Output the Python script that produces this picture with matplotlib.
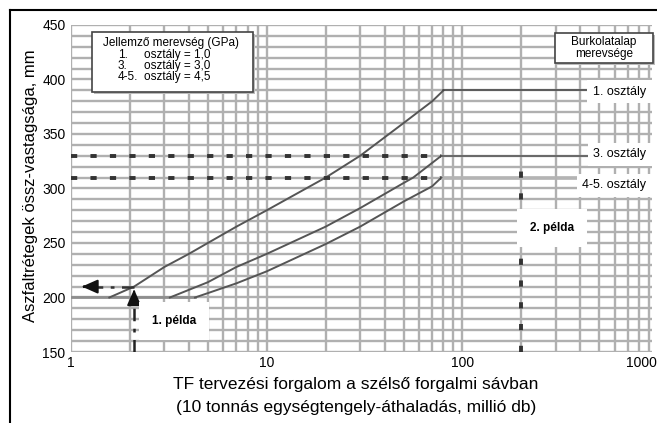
import matplotlib
matplotlib.use("Agg")
import matplotlib.pyplot as plt
from matplotlib.patches import Rectangle
import numpy as np

plt.rcParams['font.family'] = ['Liberation Sans', 'DejaVu Sans']

# ---- data ----
c1_x = [1.57, 2.1, 3.0, 4.0, 5.0, 7.0, 10.0, 20.0, 30.0, 50.0, 70.0, 80.0]
c1_y = [200, 210, 228, 240, 250, 265, 280, 310, 330, 360, 380, 390]
c3_x = [3.2, 4.0, 5.0, 7.0, 10.0, 20.0, 30.0, 50.0, 56.0, 78.0]
c3_y = [200, 207, 214, 228, 240, 265, 282, 305, 310, 330]
c45_x = [4.3, 5.0, 7.0, 10.0, 20.0, 30.0, 50.0, 70.0, 78.0]
c45_y = [200, 204, 213, 224, 249, 265, 288, 302, 310]
plateau_y = {'c1': 390, 'c3': 330, 'c45': 310}
x_end = 1000
class_labels = ['1. osztály', '3. osztály', '4-5. osztály']
ex1_x = 2.1
ex1_y = 210
ex1_left = 1.1
ex2_x = 200
ex2_top = 325
xticks = [1, 10, 100]
xticklabels = ['1', '10', '100']
last_xtick = '1000'
yticks = [150, 200, 250, 300, 350, 400, 450]
legend_title = 'Jellemző merevség (GPa)'
legend_rows = [('1.', 'osztály = 1,0'), ('3.', 'osztály = 3,0'), ('4-5.', 'osztály = 4,5')]

W, H = 657, 423
fig = plt.figure(figsize=(W / 100, H / 100), dpi=100)

def fx(px):
    return px / W

def fy(py):
    return 1 - py / H

ax = fig.add_axes([fx(71), fy(352), (652 - 71) / W, (352 - 25) / H])
ax.set_xscale('log')
ax.set_xlim(1, 930)
ax.set_ylim(150, 450)

grid_col = '#b0b0b0'
ax.set_xticks(xticks)
ax.set_xticklabels(xticklabels)
minor_x = [m * 10 ** k for k in range(3) for m in range(2, 10)]
ax.set_xticks(minor_x, minor=True)
ax.set_yticks(yticks)
ax.set_yticks(np.arange(150, 451, 10), minor=True)
ax.grid(True, which='both', color=grid_col, lw=1.7, zorder=0)
ax.set_axisbelow(True)
for s in ax.spines.values():
    s.set_visible(False)
ax.tick_params(which='both', length=0, labelsize=10, pad=4)
ax.tick_params(axis='x', pad=3)
ax.xaxis.set_minor_formatter(plt.NullFormatter())
ax.annotate(last_xtick, xy=(1.0, 0.0), xycoords='axes fraction',
            xytext=(3.5, -3), textcoords='offset points', ha='right', va='top',
            fontsize=10, annotation_clip=False)

# flat portion at 200
ax.plot([1.0, c45_x[0]], [200, 200], color='#8e8e8e', lw=2.0, zorder=2)

curve_col = '#555555'
ax.plot(c1_x, c1_y, color=curve_col, lw=1.4, zorder=3)
ax.plot(c3_x, c3_y, color=curve_col, lw=1.4, zorder=3)
ax.plot(c45_x, c45_y, color=curve_col, lw=1.4, zorder=3)

# plateaus to the right
ax.plot([c1_x[-1], x_end], [plateau_y['c1']] * 2, color='#444444', lw=1.1, zorder=3)
ax.plot([c3_x[-1], x_end], [plateau_y['c3']] * 2, color='#555555', lw=1.1, zorder=3)
ax.plot([c45_x[-1], x_end], [plateau_y['c45']] * 2, color='#b4b4b4', lw=2.6, zorder=2)

# dashed guides
dash_col = '#333333'
ax.plot([1, c3_x[-1]], [plateau_y['c3']] * 2, color=dash_col, lw=2.8,
        dashes=(1.6, 3.4), zorder=4)
ax.plot([1, c45_x[-1]], [plateau_y['c45']] * 2, color=dash_col, lw=2.8,
        dashes=(1.6, 3.4), zorder=4)
ax.plot([ex2_x, ex2_x], [150, ex2_top], color=dash_col, lw=2.8,
        dashes=(1.6, 4.0), zorder=4)

# example 1 arrows
ax.plot([ex1_x, ex1_x], [150, 203], color='#222222', lw=1.8,
        dashes=(5, 3, 1.5, 3), zorder=5)
ax.annotate('', xy=(ex1_x, ex1_y), xytext=(ex1_x, 201),
            arrowprops=dict(arrowstyle='-|>,head_width=0.42,head_length=0.95',
                            color='#111111', lw=1.5), zorder=6)
ax.plot([ex1_x, 1.24], [ex1_y, ex1_y], color='#333333', lw=1.8,
        dashes=(5, 3, 1.5, 3), zorder=5)
ax.annotate('', xy=(ex1_left, ex1_y), xytext=(1.21, ex1_y),
            arrowprops=dict(arrowstyle='-|>,head_width=0.42,head_length=0.95',
                            color='#111111', lw=1.5), zorder=6)

# example labels
fig.text(fx(174), fy(321), '1. példa', ha='center', va='center', fontsize=8.5,
         fontweight='bold', zorder=10,
         bbox=dict(facecolor='white', edgecolor='none', pad=9))
fig.text(fx(552), fy(228), '2. példa', ha='center', va='center', fontsize=8.5,
         fontweight='bold', zorder=10,
         bbox=dict(facecolor='white', edgecolor='none', pad=9))

# class labels on the right
for lab, py in zip(class_labels, [92, 154, 185]):
    fig.text(fx(646), fy(py), lab, ha='right', va='center', fontsize=9, zorder=10,
             bbox=dict(facecolor='white', edgecolor='none', pad=4))

# legend box (left)
x0, y0, x1, y1 = 92, 32, 253, 92
fig.patches.append(Rectangle((fx(x0 + 2), fy(y1 + 2)), (x1 - x0) / W, (y1 - y0) / H,
                             transform=fig.transFigure, facecolor='#bbbbbb',
                             edgecolor='none', zorder=8))
fig.patches.append(Rectangle((fx(x0), fy(y1)), (x1 - x0) / W, (y1 - y0) / H,
                             transform=fig.transFigure, facecolor='white',
                             edgecolor='#444444', lw=1.2, zorder=9))
fig.text(fx(171), fy(43), legend_title, ha='center', va='center', fontsize=8.5, zorder=10)
for (a, b), py in zip(legend_rows, [55, 66, 77]):
    fig.text(fx(118), fy(py), a, ha='left', va='center', fontsize=8.5, zorder=10)
    fig.text(fx(144), fy(py), b, ha='left', va='center', fontsize=8.5, zorder=10)

# right box
x0, y0, x1, y1 = 555, 33, 653, 63
fig.patches.append(Rectangle((fx(x0 + 2), fy(y1 + 2)), (x1 - x0) / W, (y1 - y0) / H,
                             transform=fig.transFigure, facecolor='#bbbbbb',
                             edgecolor='none', zorder=8))
fig.patches.append(Rectangle((fx(x0), fy(y1)), (x1 - x0) / W, (y1 - y0) / H,
                             transform=fig.transFigure, facecolor='white',
                             edgecolor='#444444', lw=1.2, zorder=9))
fig.text(fx(604), fy(48), 'Burkolatalap\nmerevsége', ha='center', va='center',
         fontsize=8.5, linespacing=1.0, zorder=10)

# axis labels
fig.text(fx(31), fy(186), 'Aszfaltrétegek össz-vastagsága, mm', rotation=90,
         ha='center', va='center', fontsize=12)
fig.text(fx(356), fy(384), 'TF tervezési forgalom a szélső forgalmi sávban',
         ha='center', va='center', fontsize=12.5)
fig.text(fx(356), fy(407), '(10 tonnás egységtengely-áthaladás, millió db)',
         ha='center', va='center', fontsize=12.5)

# outer frame (top and left)
fig.add_artist(plt.Line2D([fx(10), 1], [fy(10), fy(10)], color='black', lw=1.5,
                          transform=fig.transFigure))
fig.add_artist(plt.Line2D([fx(10), fx(10)], [fy(10), 0], color='black', lw=1.5,
                          transform=fig.transFigure))

fig.savefig('out.png', dpi=100)
